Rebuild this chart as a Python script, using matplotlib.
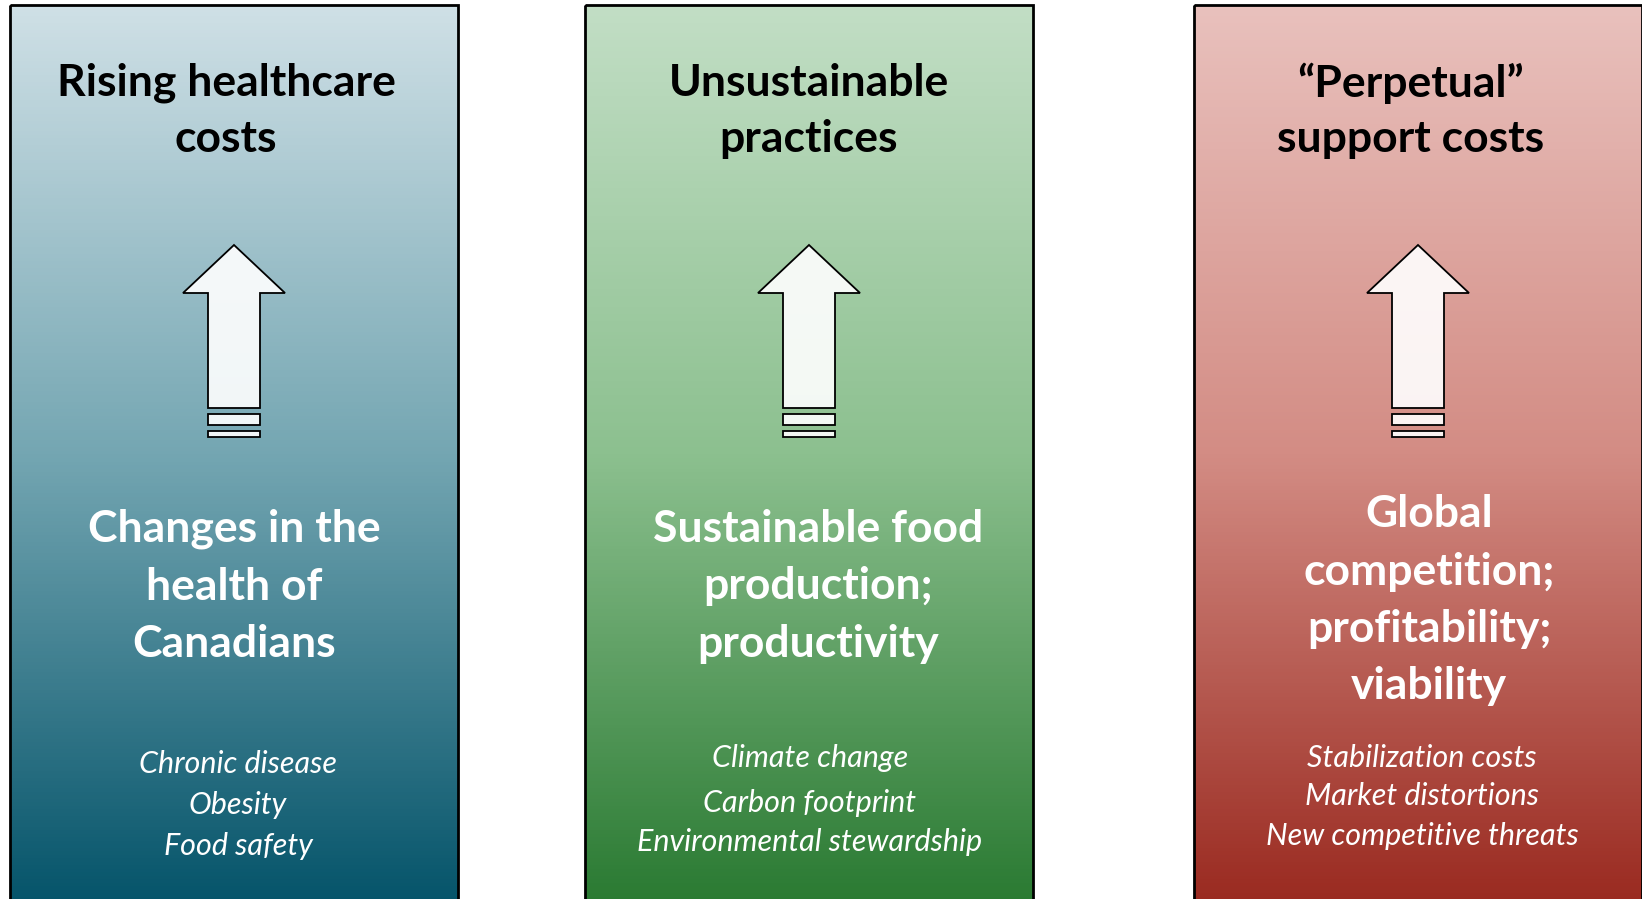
import numpy as np
import matplotlib.pyplot as plt
from matplotlib.patches import Rectangle, Polygon
from matplotlib.colors import LinearSegmentedColormap

# Panel content
titles = [["Rising healthcare", "costs"],
          ["Unsustainable", "practices"],
          ["\u201cPerpetual\u201d", "support costs"]]
drivers = [["Changes in the", "health of", "Canadians"],
           ["Sustainable food", "production;", "productivity"],
           ["Global", "competition;", "profitability;", "viability"]]
items = [["Chronic disease", "Obesity", "Food safety"],
         ["Climate change", "Carbon footprint", "Environmental stewardship"],
         ["Stabilization costs", "Market distortions", "New competitive threats"]]

# gradient stops (top, middle, bottom)
grad_colors = [["#cfe0e6", "#74a6b2", "#05546a"],
               ["#c2dec5", "#8cc08f", "#2a7a32"],
               ["#e9c1bd", "#d38c84", "#9a2a20"]]

W, H = 1642, 899
panel_left = [10, 585, 1194]
panel_w = 448
panel_top = 5

# small horizontal nudges of the text boxes inside each panel
title_dx = [-8, 0, -7]
driver_dx = [0, 9, 11]
item_dx = [4, 1, 4]
driver_y0 = [529, 529, 514]
item_y = [[764, 805, 846], [758, 803, 842], [758, 796, 836]]

fig = plt.figure(figsize=(W / 100, H / 100), dpi=100)
ax = fig.add_axes([0, 0, 1, 1])
ax.set_xlim(0, W)
ax.set_ylim(H, 0)
ax.axis("off")

for i in range(3):
    x0 = panel_left[i]
    cx = x0 + panel_w / 2
    cmap = LinearSegmentedColormap.from_list("g%d" % i, grad_colors[i])
    grad = np.linspace(0, 1, 256).reshape(-1, 1)
    ax.imshow(grad, cmap=cmap, aspect="auto",
              extent=(x0, x0 + panel_w, H + 5, panel_top), zorder=1)
    ax.add_patch(Rectangle((x0, panel_top), panel_w, H, fill=False,
                           edgecolor="black", lw=2, zorder=3))

    # up arrow with two bars under it
    arrow_pts = [(cx, 245), (cx + 51, 293), (cx + 26, 293), (cx + 26, 408),
                 (cx - 26, 408), (cx - 26, 293), (cx - 51, 293)]
    ax.add_patch(Polygon(arrow_pts, closed=True, facecolor="white",
                         alpha=0.9, edgecolor="none", zorder=4))
    ax.add_patch(Polygon(arrow_pts, closed=True, fill=False,
                         edgecolor="black", lw=1.3, zorder=5))
    for (ya, yb) in [(414, 425), (431, 437)]:
        ax.add_patch(Rectangle((cx - 26, ya), 52, yb - ya, facecolor="white",
                               alpha=0.9, edgecolor="none", zorder=4))
        ax.add_patch(Rectangle((cx - 26, ya), 52, yb - ya, fill=False,
                               edgecolor="black", lw=1.3, zorder=5))

    for k, line in enumerate(titles[i]):
        ax.text(cx + title_dx[i], 83 + k * 56, line, ha="center", va="center",
                fontsize=32, fontweight="bold", family="Lato",
                color="black", zorder=6)
    for k, line in enumerate(drivers[i]):
        ax.text(cx + driver_dx[i], driver_y0[i] + k * 57.5, line,
                ha="center", va="center", fontsize=32, fontweight="bold",
                family="Lato", color="white", zorder=6)
    for k, line in enumerate(items[i]):
        ax.text(cx + item_dx[i], item_y[i][k], line, ha="center", va="center",
                fontsize=22, style="italic", family="Lato",
                color="white", zorder=6)

fig.savefig("out.png", dpi=100)
